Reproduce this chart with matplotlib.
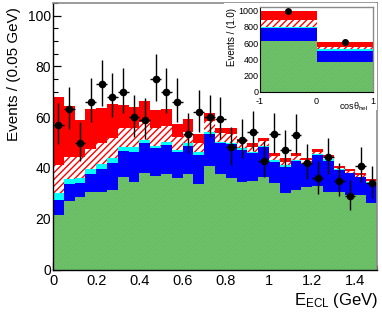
import numpy as np
import matplotlib
matplotlib.use("Agg")
import matplotlib.pyplot as plt
from matplotlib.ticker import MultipleLocator

plt.rcParams['font.family'] = ['Liberation Sans', 'DejaVu Sans']
plt.rcParams['mathtext.fontset'] = 'custom'
plt.rcParams['mathtext.rm'] = 'Liberation Sans'
plt.rcParams['mathtext.it'] = 'Liberation Sans:italic'
plt.rcParams['mathtext.default'] = 'regular'

# ---------------- main plot data (E_ECL, 30 bins of 0.05 GeV) ----------------
bin_edges = np.linspace(0.0, 1.5, 31)
# cumulative stack tops (events / 0.05 GeV), bottom layer first
top_green = [21.3, 27.0, 28.5, 30.5, 30.4, 31.5, 36.6, 34.6, 37.9, 37.0,
             37.5, 35.9, 37.5, 33.8, 40.8, 37.6, 35.9, 34.6, 35.0, 36.3,
             34.2, 30.0, 31.5, 32.5, 33.0, 30.5, 30.5, 29.3, 29.3, 26.1]
top_blue = [27.4, 33.5, 34.0, 37.6, 39.6, 41.8, 46.7, 46.4, 49.7, 47.8,
            49.1, 46.2, 48.8, 45.0, 53.3, 49.7, 49.3, 47.1, 45.8, 48.1,
            42.5, 40.5, 42.8, 41.6, 45.0, 42.9, 39.2, 37.9, 36.3, 34.0]
top_cyan = [30.3, 35.5, 36.0, 39.5, 41.4, 44.1, 48.4, 48.4, 51.0, 48.8,
            50.1, 47.1, 50.0, 46.2, 54.0, 50.4, 50.0, 47.8, 46.4, 48.8,
            43.1, 41.2, 43.1, 41.8, 45.5, 43.4, 39.5, 38.1, 36.6, 34.4]
top_hatch = [41.3, 44.5, 44.4, 47.6, 49.7, 51.7, 55.6, 55.6, 58.2, 55.9,
             56.7, 52.3, 54.3, 50.0, 58.5, 53.7, 53.3, 50.4, 48.1, 50.5,
             44.7, 42.5, 44.7, 43.1, 46.4, 44.3, 40.1, 38.8, 37.2, 34.9]
top_red = [67.8, 64.5, 59.0, 63.3, 63.5, 65.1, 64.8, 64.2, 66.4, 62.8,
           63.2, 57.2, 59.3, 53.3, 61.5, 55.9, 55.6, 51.4, 49.7, 51.7,
           46.0, 43.8, 45.8, 44.1, 47.4, 45.0, 40.8, 39.5, 37.9, 35.5]

data_y = [56.9, 63.1, 50.0, 66.1, 73.1, 68.1, 70.1, 60.0, 59.0, 75.1,
          70.1, 66.1, 53.3, 62.0, 60.1, 59.2, 48.1, 51.0, 54.0, 42.9,
          53.2, 47.1, 53.0, 42.1, 35.9, 44.2, 35.0, 29.0, 40.9, 34.0]
data_err_lo = [7.5, 7.9, 7.1, 8.1, 8.5, 8.2, 8.4, 7.7, 7.7, 8.7,
               8.4, 8.1, 7.3, 7.9, 7.7, 7.7, 6.9, 7.1, 7.3, 6.5,
               7.3, 6.9, 7.3, 6.5, 6.0, 6.6, 5.9, 5.4, 6.4, 5.8]
data_err_hi = [8.6, 9.0, 8.1, 9.2, 9.6, 9.3, 9.4, 8.8, 8.7, 9.7,
               9.4, 9.2, 8.3, 8.9, 8.8, 8.7, 8.0, 8.2, 8.4, 7.6,
               8.3, 7.9, 8.3, 7.5, 7.0, 7.7, 7.0, 6.4, 7.4, 6.9]

# ---------------- inset data (cos theta_hel, 2 bins) ----------------
inset_edges = [-1.0, 0.0, 1.0]
in_green = [630, 365]
in_blue = [785, 505]
in_cyan = [800, 530]
in_hatch = [880, 555]
in_red = [1000, 615]
in_data = [995, 615]
in_err = [32, 25]

GREEN = '#6fc36a'
GREEN_H = '#5fb15b'
BLUE = '#0000ff'
CYAN = '#00ffff'
RED = '#ff0000'


def draw_stack(ax, edges, g, b, c, h, r, hatch_lw_green=0.35, hatch_lw_red=1.0):
    zeros = np.zeros(len(g))
    with plt.rc_context({'hatch.linewidth': hatch_lw_green}):
        ax.stairs(g, edges, baseline=zeros, fill=True, facecolor=GREEN,
                  edgecolor=GREEN_H, hatch='//////////', linewidth=0, zorder=2)
    ax.stairs(b, edges, baseline=g, fill=True, facecolor=BLUE,
              edgecolor=BLUE, linewidth=0, zorder=2)
    ax.stairs(c, edges, baseline=b, fill=True, facecolor=CYAN,
              edgecolor=CYAN, linewidth=0, zorder=2)
    with plt.rc_context({'hatch.linewidth': hatch_lw_red}):
        ax.stairs(h, edges, baseline=c, fill=True, facecolor='white',
                  edgecolor=RED, hatch='/////', linewidth=0, zorder=2)
    ax.stairs(r, edges, baseline=h, fill=True, facecolor=RED,
              edgecolor=RED, linewidth=0, zorder=2)


fig = plt.figure(figsize=(3.82, 3.14), dpi=100)
W, H = 382.0, 314.0

# main axes: x 0 at px 53, 1.5 at px 377; y 0 at px 269.5, top at px 3
ax = fig.add_axes([53 / W, (H - 269.5) / H, 324 / W, 266.5 / H])
draw_stack(ax, bin_edges, np.array(top_green), np.array(top_blue),
           np.array(top_cyan), np.array(top_hatch), np.array(top_red))

centers = 0.5 * (bin_edges[:-1] + bin_edges[1:])
ax.errorbar(centers, data_y, yerr=[data_err_lo, data_err_hi], xerr=0.025,
            fmt='o', color='black', ms=4.5, elinewidth=1.0, capsize=0, zorder=5)

ax.set_xlim(0, 1.5)
ax.set_ylim(0, 105)
ax.xaxis.set_major_locator(MultipleLocator(0.2))
ax.xaxis.set_minor_locator(MultipleLocator(0.05))
ax.yaxis.set_major_locator(MultipleLocator(20))
ax.yaxis.set_minor_locator(MultipleLocator(5))
ax.tick_params(which='both', direction='in', top=False, right=False, zorder=10)
ax.tick_params(which='major', length=6, width=0.9)
ax.tick_params(which='minor', length=3.5, width=0.8)
ax.tick_params(axis='y', labelsize=10, pad=1.5)
ax.tick_params(axis='x', labelsize=10.5, pad=3)
ax.set_xticks([0, 0.2, 0.4, 0.6, 0.8, 1.0, 1.2, 1.4])
ax.set_xticklabels(['0', '0.2', '0.4', '0.6', '0.8', '1', '1.2', '1.4'])
for s in ['left', 'bottom']:
    ax.spines[s].set_color('black')
    ax.spines[s].set_linewidth(1.0)
for s in ['top', 'right']:
    ax.spines[s].set_color('#8a8a8a')
    ax.spines[s].set_linewidth(1.2)
for sp in ax.spines.values():
    sp.set_zorder(11)

fig.text(14 / W, 1 - 7 / H, 'Events / (0.05 GeV)', rotation=90,
         ha='center', va='top', fontsize=11)
fig.text(378 / W, 1 - 300 / H, 'E$_{ECL}$ (GeV)', ha='right', va='center',
         fontsize=12)

# ---------------- inset ----------------
# white pad behind the inset
pad = fig.add_axes([224 / W, (H - 110) / H, 153 / W, 107 / H])
pad.set_facecolor('white')
pad.set_xticks([])
pad.set_yticks([])
for sp in pad.spines.values():
    sp.set_visible(False)
pad.set_zorder(3)

axi = fig.add_axes([260 / W, (H - 91.7) / H, 113 / W, 84.7 / H])
axi.set_zorder(4)
draw_stack(axi, inset_edges, np.array(in_green), np.array(in_blue),
           np.array(in_cyan), np.array(in_hatch), np.array(in_red),
           hatch_lw_green=0.35, hatch_lw_red=1.0)
axi.errorbar([-0.5, 0.5], in_data, yerr=in_err, fmt='o', color='black',
             ms=4.0, elinewidth=0.8, capsize=0, zorder=5)
axi.set_xlim(-1, 1)
axi.set_ylim(0, 1045)
axi.xaxis.set_major_locator(MultipleLocator(1))
axi.xaxis.set_minor_locator(MultipleLocator(0.1))
axi.yaxis.set_major_locator(MultipleLocator(200))
axi.yaxis.set_minor_locator(MultipleLocator(50))
axi.tick_params(which='both', direction='in', top=False, right=False,
                labelsize=6.5, pad=1)
axi.tick_params(axis='x', pad=3.5)
axi.tick_params(which='major', length=4, width=0.7)
axi.tick_params(which='minor', length=2, width=0.6)
axi.set_xticks([-1, 0, 1])
axi.set_xticklabels(['-1', '0', '1'])
for s in ['left', 'bottom']:
    axi.spines[s].set_color('black')
    axi.spines[s].set_linewidth(0.8)
for s in ['top', 'right']:
    axi.spines[s].set_color('#8a8a8a')
    axi.spines[s].set_linewidth(1.0)
for sp in axi.spines.values():
    sp.set_zorder(11)
fig.text(232 / W, 1 - 8 / H, 'Events / (1.0)', rotation=90, ha='center',
         va='top', fontsize=7)
fig.text(368 / W, 1 - 106.5 / H, r'cos$\theta_{hel}$', ha='right',
         va='center', fontsize=6.5)

fig.savefig('out.png', dpi=100)
